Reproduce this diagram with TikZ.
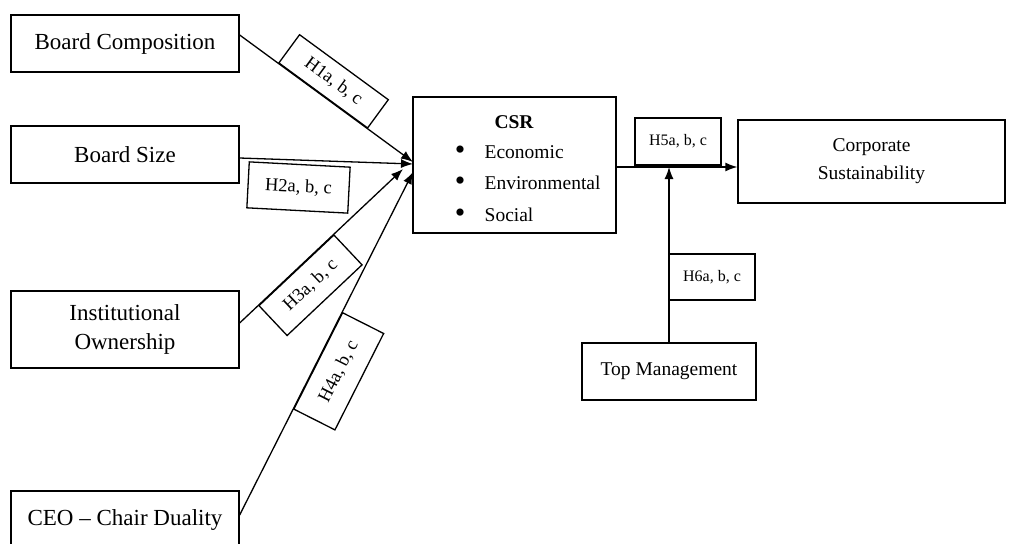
\documentclass[tikz,border=0pt]{standalone}
\usepackage{fontspec}
\setmainfont{Liberation Serif}
\usetikzlibrary{arrows.meta,calc}
\begin{document}
\begin{tikzpicture}[x=1pt,y=-1pt,line width=1.3pt,
  box/.style={draw,line width=1.3pt,inner sep=0pt,align=center},
  big/.style={font=\fontsize{23}{29}\selectfont},
  mid/.style={font=\fontsize{19.5}{28}\selectfont},
  bul/.style={font=\fontsize{30}{30}\selectfont,inner sep=0pt},
  lab/.style={draw,line width=1.3pt,inner sep=0pt,font=\fontsize{18.5}{22}\selectfont},
  labs/.style={draw,line width=1.3pt,inner sep=0pt,font=\fontsize{16}{20}\selectfont},
  arr/.style={-{Latex[length=12pt,width=9pt]},line width=1.3pt}]
\useasboundingbox (0,0) rectangle (1016,543);
\clip (0,0) rectangle (1016,543);
% boxes
\node[box,big,minimum width=228,minimum height=57] (bc) at (125,43.5) {Board Composition};
\node[box,big,minimum width=228,minimum height=57] (bs) at (125,154.5) {Board Size};
\node[box,big,minimum width=228,minimum height=77] (io) at (125,329.5) {Institutional\\Ownership};
\node[box,big,minimum width=228,minimum height=58] (ceo) at (125,520) {CEO -- Chair Duality};
\node[box,minimum width=203,minimum height=136] (csr) at (514.5,165) {};
\node[font=\fontsize{19.5}{24}\bfseries] (csrt) at (514,122) {CSR};
\node[bul] (b1) at (460,153) {\textbullet};
\node[bul] (b2) at (460,184) {\textbullet};
\node[bul] (b3) at (460,216) {\textbullet};
\node[mid,anchor=west,inner sep=0pt] (e1) at (484,152) {Economic};
\node[mid,anchor=west,inner sep=0pt] (e2) at (484,183) {Environmental};
\node[mid,anchor=west,inner sep=0pt] (e3) at (484,215) {Social};
\node[box,mid,minimum width=267,minimum height=83] (cs) at (871.5,161.5) {Corporate\\Sustainability};
\node[box,mid,minimum width=174,minimum height=57] (tm) at (669,371.5) {Top Management};
% arrow tips on CSR
\coordinate (t1) at (413,162);
\coordinate (t2) at (413,164);
\coordinate (t3) at (403,169);
\coordinate (t4) at (413,172);
% connectors with labels
\draw[arr] ($(bc.east)+(0,-8.5)$) -- node[lab,sloped,pos=0.48,anchor=south,minimum width=110,minimum height=35] (h1) {H1a, b, c} (t1);
\draw[arr] ($(bs.east)+(0,3.5)$) -- (t2);
\node[lab,rotate=-3,minimum width=101,minimum height=46] (h2) at (298.5,187.5) {H2a, b, c};
\draw[arr] ($(io.east)+(0,-6.5)$) -- node[lab,sloped,pos=0.345,anchor=north,minimum width=103,minimum height=41] (h3) {H3a, b, c} (t3);
\draw[arr] ($(ceo.east)+(0,-5)$) -- node[lab,sloped,pos=0.45,anchor=north,minimum width=108,minimum height=46] (h4) {H4a, b, c} (t4);
% right side
\coordinate (j) at ($(csr.east)+(0,2)$);
\draw[arr] (j) -- ($(cs.west)+(0,5.5)$);
\draw[arr] (tm.north) -- (tm.north |- j);
\node[labs,minimum width=86,minimum height=47] (h5) at (678,141.5) {H5a, b, c};
\node[labs,minimum width=86,minimum height=46] (h6) at (712,277) {H6a, b, c};
\end{tikzpicture}
\end{document}
